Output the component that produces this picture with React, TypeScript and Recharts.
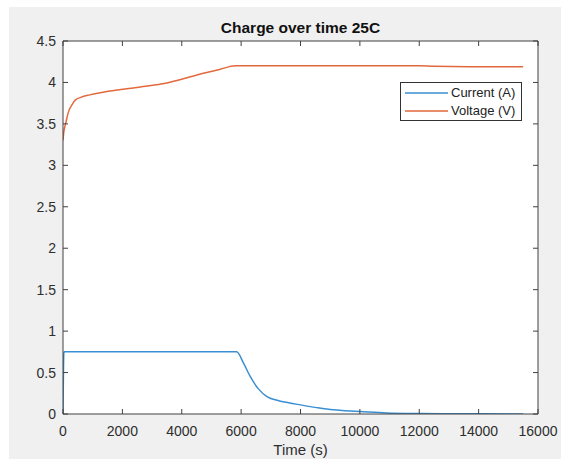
import React from 'react';
import { LineChart, Line, XAxis, YAxis, Label, Legend, CartesianGrid } from 'recharts';

// ---- Data ----
const currentTime = [0, 30, 50, 1000, 3000, 5000, 5850, 6085, 6310, 6590, 6870, 7260, 7600, 8000, 8500, 9100, 9500, 10000, 10900, 12000, 13000, 14000, 15500];
const currentValues = [0, 0.74, 0.75, 0.75, 0.75, 0.75, 0.75, 0.61, 0.45, 0.3, 0.21, 0.16, 0.135, 0.11, 0.08, 0.05, 0.04, 0.03, 0.012, 0.005, 0.003, 0.002, 0.001];

const voltageTime = [0, 20, 40, 65, 100, 150, 200, 300, 420, 600, 900, 1300, 1850, 2300, 2700, 3300, 3900, 4600, 5300, 5800, 7000, 9000, 11000, 12000, 12500, 14000, 15500];
const voltageValues = [3.3, 3.38, 3.43, 3.47, 3.52, 3.6, 3.66, 3.73, 3.79, 3.82, 3.85, 3.88, 3.91, 3.93, 3.95, 3.98, 4.03, 4.1, 4.16, 4.2, 4.2, 4.2, 4.2, 4.2, 4.195, 4.19, 4.19];

const xTicks = [0, 2000, 4000, 6000, 8000, 10000, 12000, 14000, 16000];
const yTicks = [0, 0.5, 1, 1.5, 2, 2.5, 3, 3.5, 4, 4.5];
const seriesNames = ['Current (A)', 'Voltage (V)'];
const titleText = 'Charge over time 25C';
const xLabelText = 'Time (s)';

const currentData = currentTime.map((t, i) => ({ t, v: currentValues[i] }));
const voltageData = voltageTime.map((t, i) => ({ t, v: voltageValues[i] }));

const FONT = '"Liberation Sans", Arial, Helvetica, sans-serif';
const BLUE = '#3a8fd3';
const ORANGE = '#e2693d';
const AXIS = '#404040';
const TEXT = '#2e2e2e';
const colors = [BLUE, ORANGE];

const LegendBox = () => (
  <div
    style={{
      width: 122,
      height: 39,
      boxSizing: 'border-box',
      border: '1px solid #333',
      background: '#fff',
      fontFamily: FONT,
      fontSize: 13,
      color: '#222',
      paddingTop: 1,
    }}
  >
    {seriesNames.map((name, i) => (
      <div key={name} style={{ display: 'flex', alignItems: 'center', height: 18 }}>
        <svg width={50} height={18} style={{ display: 'block' }}>
          <line x1={4} y1={9} x2={47} y2={9} stroke={colors[i]} strokeWidth={1.5} />
        </svg>
        <span style={{ lineHeight: '18px', whiteSpace: 'nowrap' }}>{name}</span>
      </div>
    ))}
  </div>
);

export default function App() {
  return (
    <div style={{ position: 'absolute', left: 0, top: 0, width: 561, height: 459, background: '#fff' }}>
      <div style={{ position: 'absolute', left: 9, top: 7, width: 552, height: 452, background: '#f0f0f0' }}>
        <LineChart
          width={552}
          height={452}
          margin={{ top: 33, right: 22, bottom: 0, left: 0 }}
          style={{ fontFamily: FONT }}
        >
          <CartesianGrid
            xAxisId="bottom"
            yAxisId="left"
            horizontal={false}
            vertical={false}
            fill="#ffffff"
            stroke="none"
          />
          <XAxis
            xAxisId="bottom"
            dataKey="t"
            type="number"
            domain={[0, 16000]}
            ticks={xTicks}
            allowDataOverflow
            height={45}
            stroke={AXIS}
            tickSize={-5}
            tickMargin={17}
            tick={{ fill: TEXT, fontSize: 14 }}
            interval={0}
          >
            <Label value={xLabelText} position="insideBottom" offset={4} style={{ fill: TEXT, fontSize: 15 }} />
          </XAxis>
          <XAxis
            xAxisId="top"
            orientation="top"
            dataKey="t"
            type="number"
            domain={[0, 16000]}
            ticks={xTicks}
            allowDataOverflow
            height={1}
            stroke={AXIS}
            tickSize={-5}
            tickFormatter={() => ''}
            interval={0}
          >
            <Label value={titleText} position="top" offset={7} style={{ fill: '#111', fontSize: 15.5, fontWeight: 'bold' }} />
          </XAxis>
          <YAxis
            yAxisId="left"
            type="number"
            domain={[0, 4.5]}
            ticks={yTicks}
            allowDataOverflow
            width={54}
            stroke={AXIS}
            tickSize={-5}
            tickMargin={12}
            tick={{ fill: TEXT, fontSize: 14 }}
            interval={0}
          />
          <YAxis
            yAxisId="right"
            orientation="right"
            type="number"
            domain={[0, 4.5]}
            ticks={yTicks}
            allowDataOverflow
            width={1}
            stroke={AXIS}
            tickSize={-5}
            tickFormatter={() => ''}
            interval={0}
          />
          <Legend
            layout="vertical"
            align="center"
            verticalAlign="middle"
            content={<LegendBox />}
            wrapperStyle={{ left: 391, top: 75, width: 122, height: 39 }}
          />
          <Line
            xAxisId="bottom"
            yAxisId="left"
            data={currentData}
            dataKey="v"
            name={seriesNames[0]}
            type="monotone"
            stroke={BLUE}
            strokeWidth={1.5}
            dot={false}
            isAnimationActive={false}
          />
          <Line
            xAxisId="bottom"
            yAxisId="left"
            data={voltageData}
            dataKey="v"
            name={seriesNames[1]}
            type="monotone"
            stroke={ORANGE}
            strokeWidth={1.5}
            dot={false}
            isAnimationActive={false}
          />
        </LineChart>
      </div>
    </div>
  );
}
